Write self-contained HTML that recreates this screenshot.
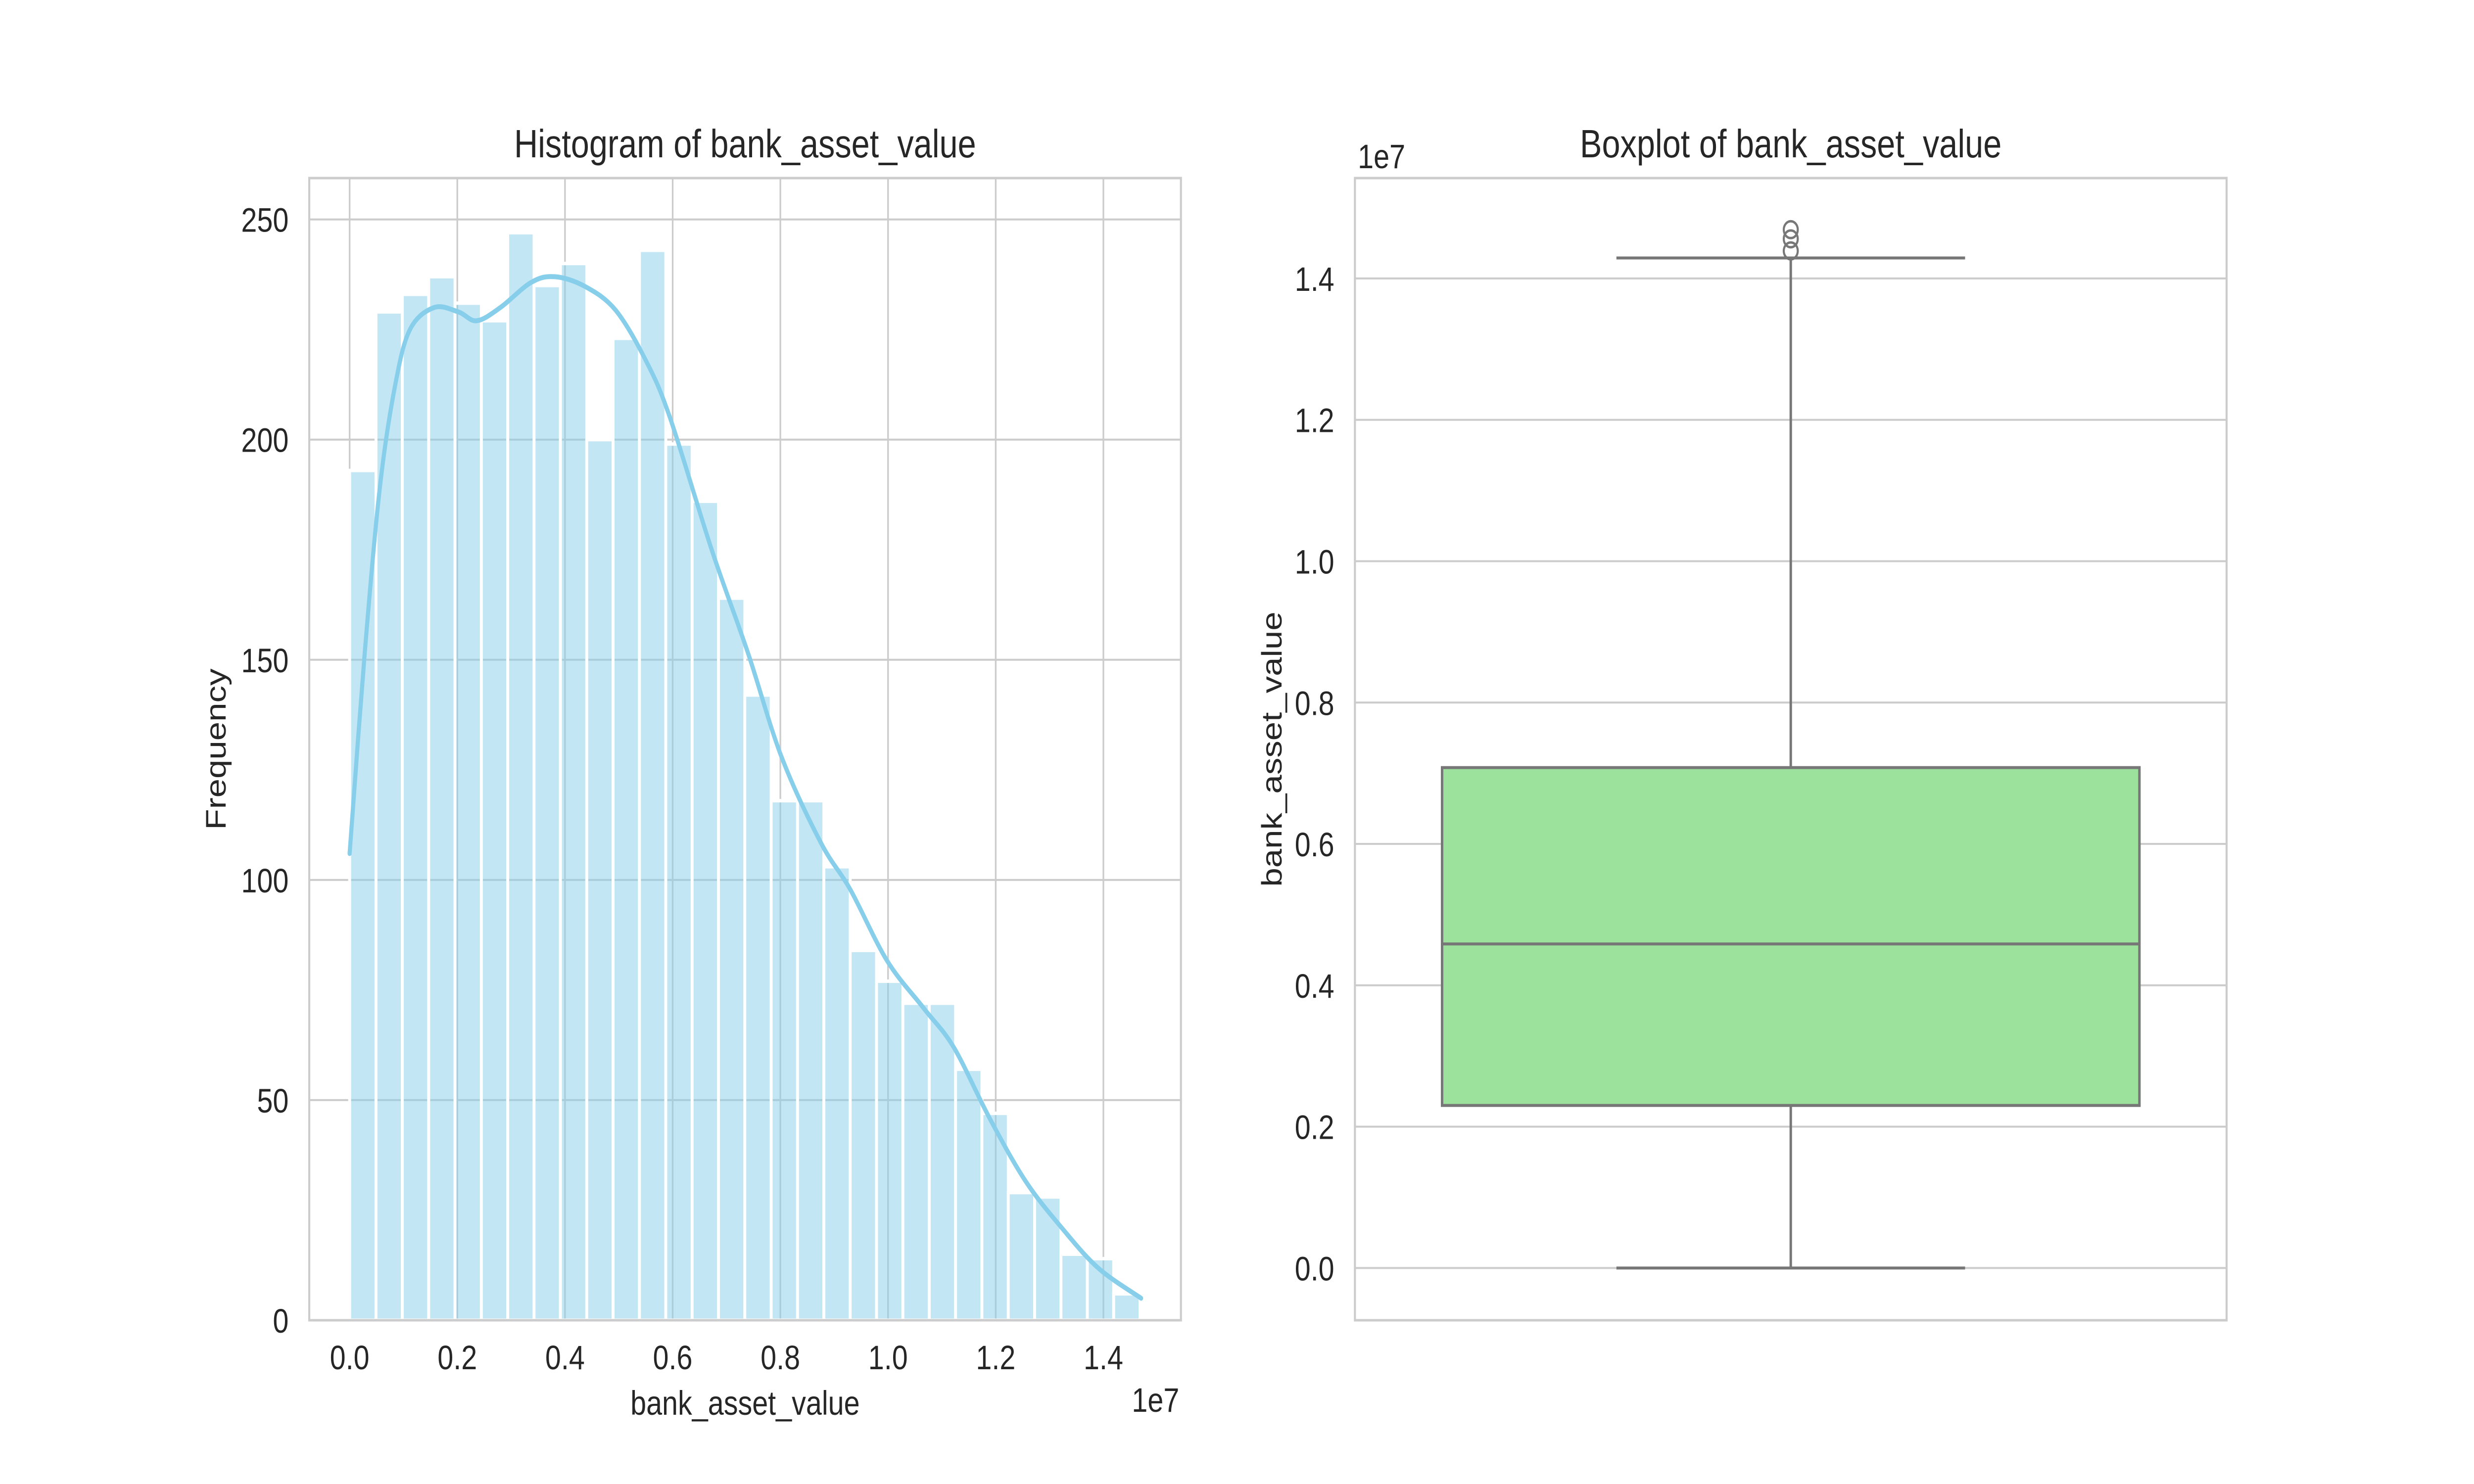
<!DOCTYPE html>
<html><head><meta charset="utf-8"><style>
html,body{margin:0;padding:0;background:#fff;width:100%;height:100%;overflow:hidden;}
svg{display:block;width:100vw;height:100vh;}
text{font-family:"Liberation Sans",Arial,sans-serif;fill:#262626;}
</style></head>
<body>
<svg id="fig" viewBox="0 0 6000 3000" preserveAspectRatio="none">
<rect width="6000" height="3000" fill="#fff"/>
</svg>
<script>
// Histogram data (values in units of 1e7)
const histCounts = [193,229,233,237,231,227,247,235,240,200,223,243,199,186,164,142,118,118,103,84,77,72,72,57,47,29,28,15,14,6];
const histMin = 0.0;
const histMax = 1.468;
const kdeX = [0,0.028,0.056,0.084,0.112,0.157,0.202,0.236,0.28,0.337,0.381,0.437,0.494,0.55,0.595,0.673,0.74,0.802,0.875,0.93,0.998,1.066,1.122,1.189,1.256,1.324,1.391,1.47];
const kdeY = [106,151.5,189,212,225,230,229,227,230,235.7,237,234.8,229.4,218,205,174.8,151.5,128,108.5,97.8,81.7,70.9,62,45.8,31.5,20.8,11.8,5];
const histXTicks = [0,0.2,0.4,0.6,0.8,1.0,1.2,1.4];
const histYTicks = [0,50,100,150,200,250];
// Boxplot data (units of 1e7)
const boxStats = {whiskerLow:0.0, q1:0.23, median:0.4585, q3:0.708, whiskerHigh:1.429};
const boxOutliers = [1.439,1.456,1.469];
const boxYTicks = [0,0.2,0.4,0.6,0.8,1.0,1.2,1.4];

const NS="http://www.w3.org/2000/svg";
const svg=document.getElementById('fig');
function el(tag,attrs,parent){const e=document.createElementNS(NS,tag);for(const k in attrs)e.setAttribute(k,attrs[k]);(parent||svg).appendChild(e);return e;}
function txt(s,attrs,parent){const e=el('text',attrs,parent);e.textContent=s;return e;}

// ---- Histogram axes ----
const A={l:750,r:2864,t:360,b:2669};
const hx=v=>A.l+(v-(-0.075))/(1.544-(-0.075))*(A.r-A.l);
const hy=v=>A.b-(v/259.4)*(A.b-A.t);
const g1=el('g',{});


histXTicks.forEach(t=>{
  const l=el('line',{x1:hx(t),x2:hx(t),y1:A.t,y2:A.b,stroke:'#cccccc','stroke-width':4},g1);
  
  const s=txt(t.toFixed(1),{x:hx(t),y:2768,'font-size':69,'text-anchor':'middle'},g1);
  
});
histYTicks.forEach(t=>{
  const l=el('line',{x1:A.l,x2:A.r,y1:hy(t),y2:hy(t),stroke:'#cccccc','stroke-width':4},g1);
  
  const s=txt(String(t),{x:700,y:hy(t)+25,'font-size':69,'text-anchor':'end'},g1);
  
});
const bw=(histMax-histMin)/histCounts.length;
histCounts.forEach((c,i)=>{
  const x0=hx(histMin+i*bw),x1=hx(histMin+(i+1)*bw);
  const r=el('rect',{x:x0,y:hy(c),width:x1-x0,height:hy(0)-hy(c),fill:'#87ceeb','fill-opacity':0.5,stroke:'#ffffff','stroke-width':7},g1);
  
  
});
// smooth KDE via Catmull-Rom
const P=kdeX.map((x,i)=>[hx(x),hy(kdeY[i])]);
let d='M'+P[0][0].toFixed(1)+','+P[0][1].toFixed(1);
for(let i=0;i<P.length-1;i++){
  const p0=P[Math.max(0,i-1)],p1=P[i],p2=P[i+1],p3=P[Math.min(P.length-1,i+2)];
  const c1x=p1[0]+(p2[0]-p0[0])/6,c1y=p1[1]+(p2[1]-p0[1])/6;
  const c2x=p2[0]-(p3[0]-p1[0])/6,c2y=p2[1]-(p3[1]-p1[1])/6;
  d+='C'+c1x.toFixed(1)+','+c1y.toFixed(1)+' '+c2x.toFixed(1)+','+c2y.toFixed(1)+' '+p2[0].toFixed(1)+','+p2[1].toFixed(1);
}
const kde=el('path',{d:d,fill:'none',stroke:'#87ceeb','stroke-width':10,'stroke-linecap':'round','stroke-linejoin':'round'},g1);


const f1=el('rect',{x:A.l,y:A.t,width:A.r-A.l,height:A.b-A.t,fill:'none',stroke:'#cccccc','stroke-width':5},g1);


const t1=txt('Histogram of bank_asset_value',{x:(A.l+A.r)/2,y:318,'font-size':80,'text-anchor':'middle'},g1);


const xl=txt('bank_asset_value',{x:(A.l+A.r)/2,y:2860,'font-size':69,'text-anchor':'middle'},g1);


const yl=txt('Frequency',{x:0,y:0,'font-size':69,'text-anchor':'middle',transform:'translate(547,'+((A.t+A.b)/2)+') rotate(-90)'},g1);


const off1=txt('1e7',{x:2860,y:2854,'font-size':69,'text-anchor':'end'},g1);



// ---- Boxplot axes ----
const B={l:3286,r:5400,t:360,b:2669};
const by=v=>B.b-(v-(-0.0739))/(1.542-(-0.0739))*(B.b-B.t);
const g2=el('g',{});


boxYTicks.forEach(t=>{
  const l=el('line',{x1:B.l,x2:B.r,y1:by(t),y2:by(t),stroke:'#cccccc','stroke-width':4},g2);
  
  const s=txt(t.toFixed(1),{x:3236,y:by(t)+25,'font-size':69,'text-anchor':'end'},g2);
  
});
const cx=(B.l+B.r)/2, bhw=(B.r-B.l)*0.4, capw=(B.r-B.l)*0.2;
const gray='#777777';
const wl=el('line',{x1:cx,x2:cx,y1:by(boxStats.q3),y2:by(boxStats.whiskerHigh),stroke:gray,'stroke-width':6},g2);

const wl2=el('line',{x1:cx,x2:cx,y1:by(boxStats.q1),y2:by(boxStats.whiskerLow),stroke:gray,'stroke-width':6},g2);

const c1=el('line',{x1:cx-capw,x2:cx+capw,y1:by(boxStats.whiskerHigh),y2:by(boxStats.whiskerHigh),stroke:gray,'stroke-width':6},g2);

const c2=el('line',{x1:cx-capw,x2:cx+capw,y1:by(boxStats.whiskerLow),y2:by(boxStats.whiskerLow),stroke:gray,'stroke-width':6},g2);

const box=el('rect',{x:cx-bhw,y:by(boxStats.q3),width:2*bhw,height:by(boxStats.q1)-by(boxStats.q3),fill:'#9ce29c',stroke:gray,'stroke-width':6},g2);

const med=el('line',{x1:cx-bhw,x2:cx+bhw,y1:by(boxStats.median),y2:by(boxStats.median),stroke:gray,'stroke-width':6},g2);

boxOutliers.forEach(o=>{
  const c=el('circle',{cx:cx,cy:by(o),r:17,fill:'none',stroke:gray,'stroke-width':5},g2);
  
  
});
const f2=el('rect',{x:B.l,y:B.t,width:B.r-B.l,height:B.b-B.t,fill:'none',stroke:'#cccccc','stroke-width':5},g2);

const t2=txt('Boxplot of bank_asset_value',{x:cx,y:318,'font-size':80,'text-anchor':'middle'},g2);

const yl2=txt('bank_asset_value',{x:0,y:0,'font-size':69,'text-anchor':'middle',transform:'translate(3108,'+((B.t+B.b)/2)+') rotate(-90)'},g2);

const off2=txt('1e7',{x:3293,y:340,'font-size':69,'text-anchor':'start'},g2);

</script>
</body></html>
